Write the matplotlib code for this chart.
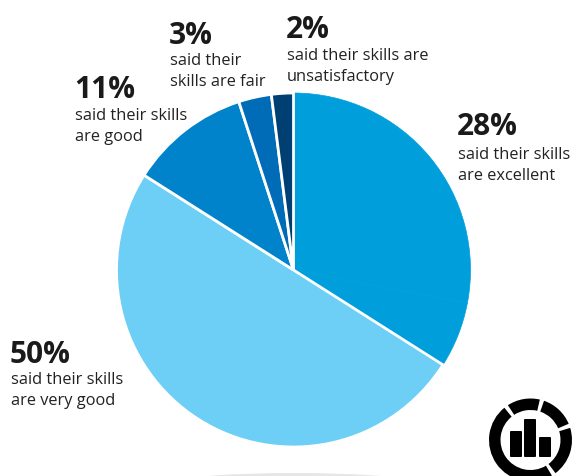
import matplotlib
matplotlib.use('Agg')
import matplotlib.pyplot as plt
from matplotlib.patches import Wedge, FancyBboxPatch, Ellipse

plt.rcParams['font.family'] = ['Open Sans', 'DejaVu Sans']

# Survey results, clockwise from twelve o'clock
percents = [28, 50, 11, 3, 2]
captions = ['said their skills\nare excellent', 'said their skills\nare very good',
            'said their skills\nare good', 'said their\nskills are fair',
            'said their skills are\nunsatisfactory']
colors = ['#009fdc', '#6dcff6', '#0083ca', '#006bb6', '#003f72']

# The answers do not add up to 100; the rest is shown in the first slice's colour
not_stated = 100 - sum(percents)
slice_values = [percents[0], not_stated] + percents[1:]
slice_colors = [colors[0], colors[0]] + colors[1:]

W, H = 576, 476
fig = plt.figure(figsize=(W / 100, H / 100), dpi=100)
ax = fig.add_axes([0, 0, 1, 1])

wedges, _ = ax.pie(slice_values, colors=slice_colors, startangle=90, counterclock=False,
                   center=(293.5, H - 270), radius=177,
                   wedgeprops={'edgecolor': 'white', 'linewidth': 2})
# no white line inside the first slice
for w in wedges[:2]:
    w.set_edgecolor(colors[0])
    w.set_linewidth(0.5)
    w.set_zorder(0.5)

ax.set_xlim(0, W)
ax.set_ylim(0, H)
ax.set_aspect('equal')
ax.axis('off')

# label anchors (left edge, number baseline, first caption baseline)
label_pos = [(457, 135, 159), (10, 363, 384), (74, 98, 120), (169, 44, 65), (286, 38, 60)]
for pct, cap, (x, y_num, y_cap) in zip(percents, captions, label_pos):
    ax.text(x, H - y_num, f'{pct}%', fontsize=21.5, fontweight='bold', color='#1a1a1a',
            ha='left', va='baseline')
    first, second = cap.split('\n')
    ax.text(x + 1, H - y_cap, first, fontsize=11.8, color='#222222', ha='left', va='baseline')
    ax.text(x + 1, H - y_cap - 21, second, fontsize=11.8, color='#222222', ha='left', va='baseline')

# faint shadow along the bottom edge
ax.add_patch(Ellipse((294, H - 481), 220, 16, color='#e6e6e6', lw=0, zorder=0.2))

# chart icon in the corner
cx, cy = 530.5, H - 440
gaps = [126, 74, 20, -56]
starts = gaps + [gaps[0] - 360]
for a, b in zip(starts[1:], starts[:-1]):
    ax.add_patch(Wedge((cx, cy), 41.5, a + 3, b - 3, width=11.5, color='black', lw=0))
for x0, x1, top in [(510, 522, 431), (524, 536, 419), (539, 551, 437)]:
    ax.add_patch(FancyBboxPatch((x0 + 1, H - 456), x1 - x0 - 2, 456 - top - 1,
                                boxstyle='round,pad=1', color='black', lw=0))

fig.savefig('out.png', dpi=100)
